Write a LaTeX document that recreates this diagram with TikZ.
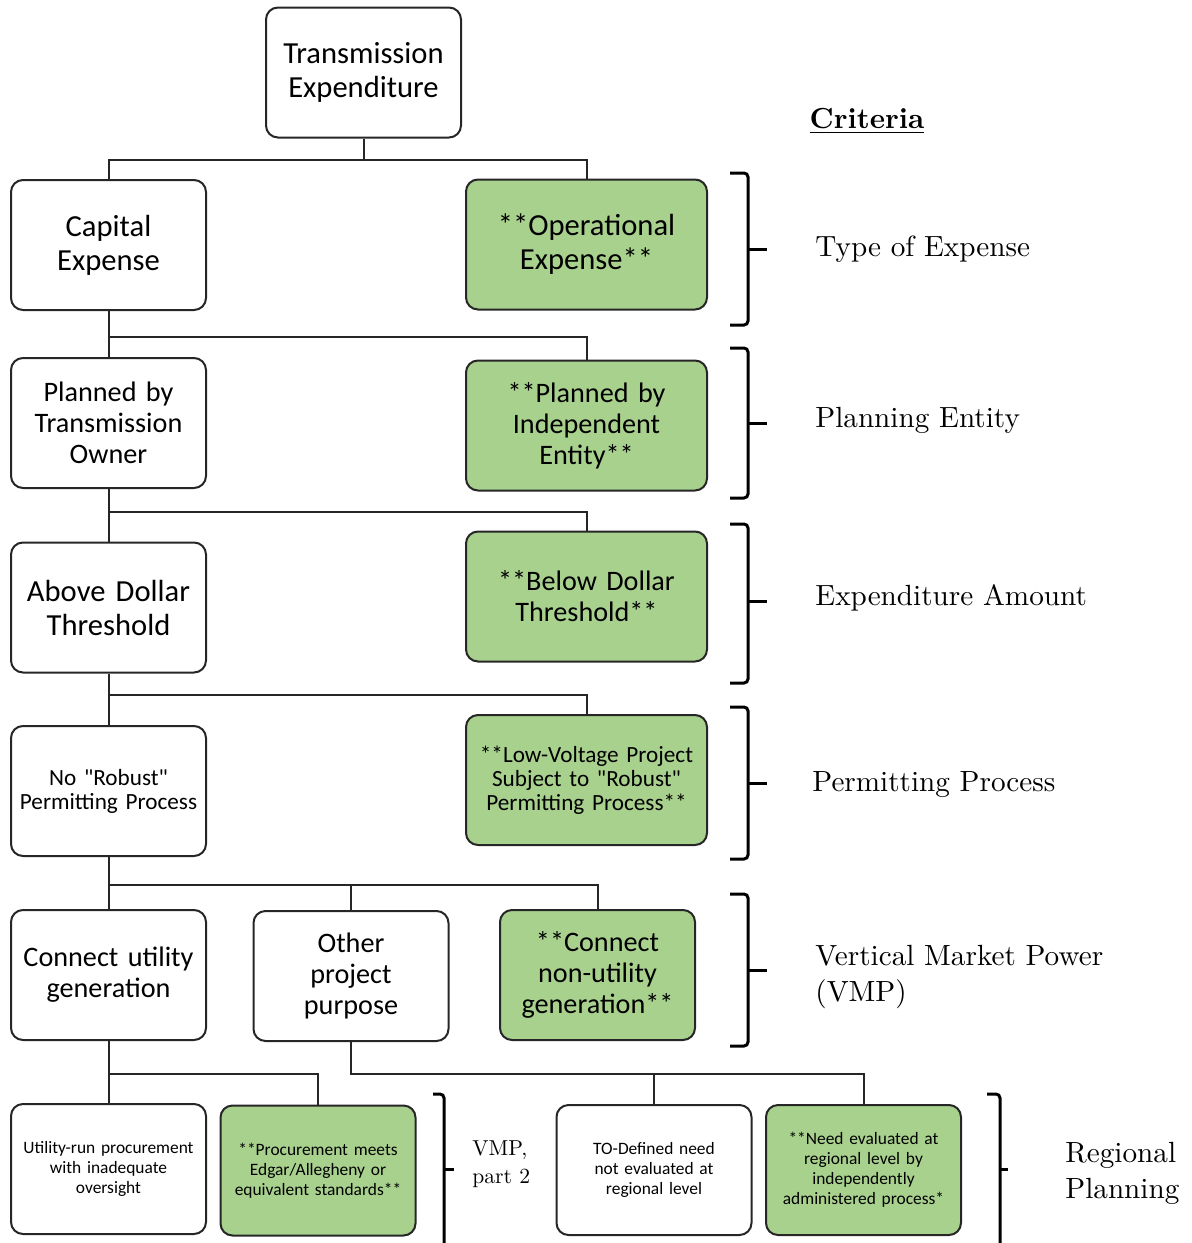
\documentclass[tikz,border=0pt]{standalone}
\usepackage{fontspec}
\setsansfont{Carlito}
\newfontfamily\critfont{lmroman10-regular}[Extension=.otf, BoldFont=lmroman10-bold]
\usetikzlibrary{positioning}

\definecolor{boxgreen}{HTML}{A9D18E}

\tikzset{
  critbox/.style={draw=black!85, line width=1pt, rounded corners=6pt, align=center,
    inner sep=2pt, minimum width=97.5pt, minimum height=65pt, text width=93pt},
  greenbox/.style={critbox, fill=boxgreen},
  widebox/.style={minimum width=120.5pt, text width=116pt},
  txtL/.style={font=\sffamily\fontsize{15.3}{17}\selectfont},
  txtM/.style={font=\sffamily\fontsize{14.1}{15.5}\selectfont},
  txtS/.style={font=\sffamily\fontsize{11.6}{12}\selectfont},
  txtXS/.style={font=\sffamily\fontsize{8.7}{10}\selectfont},
  link/.style={line width=1pt, draw=black!85},
  bracket/.style={line width=1.5pt, rounded corners=2pt},
  critlabel/.style={font=\critfont\fontsize{14.6}{18}\selectfont, anchor=west, align=left, inner sep=0pt},
}

\begin{document}
\begin{tikzpicture}[x=0.5pt, y=-0.5pt]

    \useasboundingbox (0,0) rectangle (1192,1243);

    % Tree of expense criteria
    \node[critbox, txtL] (top) at (363.5,72.5) {Transmission\\Expenditure};

    \node[critbox, txtL] (capex) at (108.5,245) {Capital\\Expense};
    \node[greenbox, widebox, txtL] (opex) at (586.5,244.5) {**Operational\\Expense**};

    \node[critbox, txtM] (planTO) at (108.5,423) {Planned by\\Transmission\\Owner};
    \node[greenbox, widebox, txtM] (planIE) at (586.5,425.5) {**Planned by\\Independent\\Entity**};

    \node[critbox, txtL] (above) at (108.5,607.5) {Above Dollar\\Threshold};
    \node[greenbox, widebox, txtM] (below) at (586.5,596.5) {**Below Dollar\\Threshold**};

    \node[critbox, txtS] (norobust) at (108.5,791) {No \textquotedbl Robust\textquotedbl\\Permitting Process};
    \node[greenbox, widebox, txtS] (lowvolt) at (586.5,780) {**Low-Voltage Project\\Subject to \textquotedbl Robust\textquotedbl\\Permitting Process**};

    \node[critbox, txtM] (utilgen) at (108.5,975) {Connect utility\\generation};
    \node[critbox, txtM] (other) at (351,976) {Other\\project\\purpose};
    \node[greenbox, txtM] (nonutil) at (597.5,975) {**Connect\\non-utility\\generation**};

    \node[critbox, txtXS] (utilrun) at (108.5,1169) {Utility-run procurement\\with inadequate\\oversight};
    \node[greenbox, txtXS] (procure) at (318,1170.5) {**Procurement meets\\Edgar/Allegheny or\\equivalent standards**};

    \node[critbox, txtXS] (todef) at (654,1170) {TO-Defined need\\not evaluated at\\regional level};
    \node[greenbox, txtXS] (needeval) at (863.5,1170) {**Need evaluated at\\regional level by\\independently\\administered process*};

    % Connectors
    \draw[link] (top.south) -- ++(0,21) -| (capex.north);
    \draw[link] (top.south) ++(0,21) -| (opex.north);

    \draw[link] (capex.south) -- (planTO.north);
    \draw[link] (capex.south) ++(0,26) -| (planIE.north);

    \draw[link] (planTO.south) -- (above.north);
    \draw[link] (planTO.south) ++(0,23) -| (below.north);

    \draw[link] (above.south) -- (norobust.north);
    \draw[link] (above.south) ++(0,21) -| (lowvolt.north);

    \draw[link] (norobust.south) -- (utilgen.north);
    \draw[link] (norobust.south) ++(0,28) -| (other.north);
    \draw[link] (norobust.south) ++(0,28) -| (nonutil.north);

    \draw[link] (utilgen.south) -- (utilrun.north);
    \draw[link] (utilgen.south) ++(0,33) -| (procure.north);

    \draw[link] (other.south) ++(0,32) -| (todef.north);
    \draw[link] (other.south) -- ++(0,32) -| (needeval.north);

    % Criteria brackets
    \draw[bracket] (730,173) -- (748,173) -- (748,325) -- (730,325);
    \draw[bracket] (748,249) -- (767,249);
    \draw[bracket] (730,348) -- (748,348) -- (748,498) -- (730,498);
    \draw[bracket] (748,423) -- (767,423);
    \draw[bracket] (730,524) -- (748,524) -- (748,683) -- (730,683);
    \draw[bracket] (748,601) -- (767,601);
    \draw[bracket] (730,707) -- (748,707) -- (748,859) -- (730,859);
    \draw[bracket] (748,783) -- (767,783);
    \draw[bracket] (730,894) -- (748,894) -- (748,1046) -- (730,1046);
    \draw[bracket] (748,970) -- (767,970);
    \draw[bracket] (433,1094) -- (444,1094) -- (444,1250);
    \draw[bracket] (444,1169) -- (454,1169);
    \draw[bracket] (987,1094) -- (1000,1094) -- (1000,1250);
    \draw[bracket] (1000,1169) -- (1008,1169);

    % Criteria labels
    \node[font=\critfont\bfseries\fontsize{14.5}{18}\selectfont] (crit) at (867,121) {\underline{Criteria}};
    \node[critlabel] (typeexp) at (815,249) {Type of Expense};
    \node[critlabel] (planent) at (815,420) {Planning Entity};
    \node[critlabel] (expamt) at (815,598) {Expenditure Amount};
    \node[critlabel] (permproc) at (812,785) {Permitting Process};
    \node[critlabel] (vmp) at (815,977) {Vertical Market Power\\(VMP)};
    \node[critlabel, font=\critfont\fontsize{10.8}{14}\selectfont] (vmptwo) at (472,1164) {VMP,\\part 2};
    \node[critlabel] (regplan) at (1065,1173) {Regional\\Planning};

\end{tikzpicture}
\end{document}
